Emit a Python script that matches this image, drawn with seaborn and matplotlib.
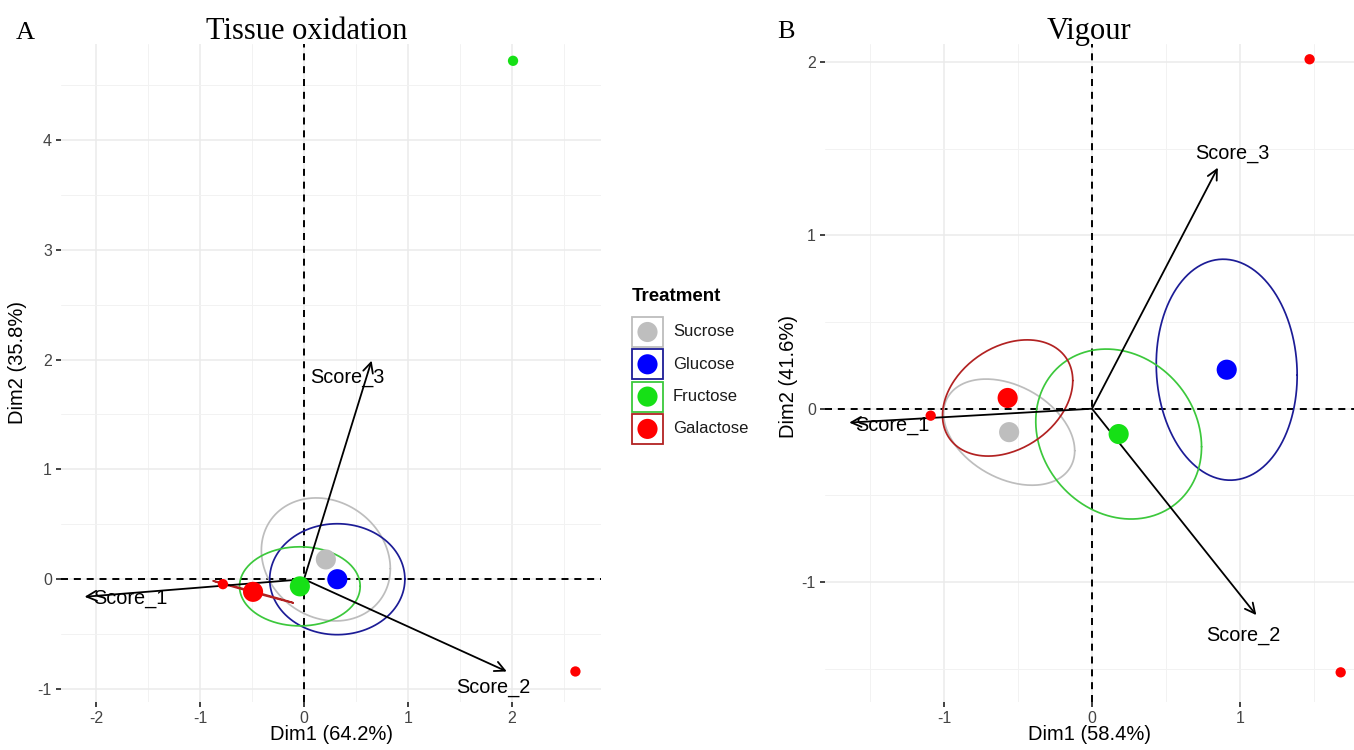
import numpy as np
import matplotlib
matplotlib.use("Agg")
import matplotlib.pyplot as plt
import seaborn as sns
from matplotlib.patches import Rectangle

# ---------------------------------------------------------------- data
treatments = ["Sucrose", "Glucose", "Fructose", "Galactose"]
point_colors = ["#BEBEBE", "#0000FF", "#16E016", "#FF0000"]
ellipse_colors = ["#BDBDBD", "#1C1C96", "#3CC83C", "#B22222"]

var_names = ["Score_1", "Score_2", "Score_3"]

# Panel A: tissue oxidation
a_mean_x = [0.21, 0.32, -0.04, -0.49]
a_mean_y = [0.18, 0.00, -0.065, -0.115]
a_ell_hx = [0.62, 0.65, 0.58, 0.385]
a_ell_hy = [0.56, 0.505, 0.36, 0.10]
a_ell_r = [-0.15, 0.0, 0.0, -0.999]
a_ind_x = [2.01, 2.61, -0.78]
a_ind_y = [4.72, -0.84, -0.045]
a_ind_group = ["Fructose", "Galactose", "Galactose"]
a_var_x = [-2.11, 1.95, 0.65]
a_var_y = [-0.16, -0.84, 1.99]
a_lab_x = [-1.67, 1.82, 0.42]
a_lab_y = [-0.18, -0.99, 1.84]

# Panel B: vigour
b_mean_x = [-0.56, 0.91, 0.18, -0.57]
b_mean_y = [-0.135, 0.225, -0.146, 0.062]
b_ell_hx = [0.443, 0.476, 0.56, 0.44]
b_ell_hy = [0.306, 0.637, 0.49, 0.335]
b_ell_r = [-0.35, -0.05, -0.15, 0.30]
b_ind_x = [1.47, 1.68, -1.09]
b_ind_y = [2.015, -1.52, -0.04]
b_ind_group = ["Galactose", "Galactose", "Galactose"]
b_var_x = [-1.64, 1.11, 0.85]
b_var_y = [-0.08, -1.19, 1.39]
b_lab_x = [-1.35, 1.02, 0.95]
b_lab_y = [-0.095, -1.305, 1.47]

# ---------------------------------------------------------------- style
sns.set_theme(style="whitegrid")
plt.rcParams["font.family"] = ["Liberation Sans", "DejaVu Sans"]
plt.rcParams["text.color"] = "black"

W, H = 1354, 750
fig = plt.figure(figsize=(W / 100, H / 100), dpi=100)
fig.patch.set_facecolor("white")


def fig_rect(left, top, right, bottom):
    return [left / W, 1 - bottom / H, (right - left) / W, (bottom - top) / H]


def fxy(x, y):
    return x / W, 1 - y / H


pal_pts = dict(zip(treatments, point_colors))


def ellipse_path(cx, cy, hx, hy, r, n=240):
    t = np.linspace(0, 2 * np.pi, n)
    u, v = np.cos(t), np.sin(t)
    x = cx + hx * u
    y = cy + hy * (r * u + np.sqrt(max(1 - r * r, 0.0)) * v)
    return x, y


def draw_panel(ax, xlim, ylim, xmaj, xmin, ymaj, ymin,
               mx, my, ehx, ehy, er, ix, iy, ig, vx, vy, lx, ly):
    ax.set_facecolor("white")
    ax.set_xlim(*xlim)
    ax.set_ylim(*ylim)
    ax.set_xticks(xmaj)
    ax.set_xticks(xmin, minor=True)
    ax.set_yticks(ymaj)
    ax.set_yticks(ymin, minor=True)
    ax.set_xticklabels([f"{v:g}" for v in xmaj])
    ax.set_yticklabels([f"{v:g}" for v in ymaj])
    ax.grid(which="major", color="#EBEBEB", lw=1.1)
    ax.grid(which="minor", color="#F2F2F2", lw=0.7)
    ax.set_axisbelow(True)
    for s in ax.spines.values():
        s.set_visible(False)
    ax.tick_params(which="major", length=3.6, width=1.3, color="#333333",
                   labelcolor="#444444", labelsize=11.5, pad=3,
                   direction="out", bottom=True, left=True)
    ax.tick_params(which="minor", length=0)

    ax.axhline(0, color="black", lw=1.4, ls=(0, (3.6, 3.0)), zorder=1)
    ax.axvline(0, color="black", lw=1.4, ls=(0, (3.6, 3.0)), zorder=1)

    for i in range(len(treatments)):
        ex, ey = ellipse_path(mx[i], my[i], ehx[i], ehy[i], er[i])
        ax.plot(ex, ey, color=ellipse_colors[i], lw=1.25, zorder=2)

    for i in range(len(var_names)):
        ax.annotate("", xy=(vx[i], vy[i]), xytext=(0, 0),
                    arrowprops=dict(arrowstyle="->", color="black", lw=1.3,
                                    mutation_scale=18, shrinkA=0, shrinkB=0),
                    zorder=3)

    sns.scatterplot(x=ix, y=iy, hue=ig, palette=pal_pts, s=55,
                    edgecolor="none", legend=False, ax=ax, zorder=4)
    sns.scatterplot(x=mx, y=my, hue=treatments, palette=pal_pts, s=210,
                    edgecolor="none", legend=False, ax=ax, zorder=5)

    for i, name in enumerate(var_names):
        ax.text(lx[i], ly[i], name, fontsize=14.3, color="black",
                ha="center", va="center", zorder=6)
    ax.set_xlabel("")
    ax.set_ylabel("")


# Panel A
axA = fig.add_axes(fig_rect(61, 44, 601, 702))
draw_panel(axA, (-2.337, 2.856), (-1.118, 4.873),
           [-2, -1, 0, 1, 2], [-1.5, -0.5, 0.5, 1.5, 2.5],
           [-1, 0, 1, 2, 3, 4], [-0.5, 0.5, 1.5, 2.5, 3.5, 4.5],
           a_mean_x, a_mean_y, a_ell_hx, a_ell_hy, a_ell_r,
           a_ind_x, a_ind_y, a_ind_group, a_var_x, a_var_y, a_lab_x, a_lab_y)

# Panel B
axB = fig.add_axes(fig_rect(825, 44, 1354, 702))
draw_panel(axB, (-1.804, 1.770), (-1.691, 2.103),
           [-1, 0, 1], [-1.5, -0.5, 0.5, 1.5],
           [-1, 0, 1, 2], [-1.5, -0.5, 0.5, 1.5],
           b_mean_x, b_mean_y, b_ell_hx, b_ell_hy, b_ell_r,
           b_ind_x, b_ind_y, b_ind_group, b_var_x, b_var_y, b_lab_x, b_lab_y)

# Titles and panel tags
serif = ["Liberation Serif", "DejaVu Serif"]
fig.text(*fxy(16, 39), "A", family=serif, fontsize=19, ha="left", va="baseline")
fig.text(*fxy(307, 39), "Tissue oxidation", family=serif, fontsize=22,
         ha="center", va="baseline")
fig.text(*fxy(777, 38), "B", family=serif, fontsize=19, ha="left", va="baseline")
fig.text(*fxy(1089, 39), "Vigour", family=serif, fontsize=22,
         ha="center", va="baseline")

# Axis titles
fig.text(*fxy(331, 735), "Dim1 (64.2%)", fontsize=14.5, ha="center", va="center")
fig.text(*fxy(1090, 735), "Dim1 (58.4%)", fontsize=14.5, ha="center", va="center")
fig.text(*fxy(18, 362), "Dim2 (35.8%)", fontsize=14.5, ha="center",
         va="center", rotation=90)
fig.text(*fxy(788, 376), "Dim2 (41.6%)", fontsize=14.5, ha="center",
         va="center", rotation=90)

# Legend for the treatments
legA = fig.add_axes(fig_rect(620, 280, 770, 450))
legA.set_xlim(620, 770)
legA.set_ylim(450, 280)
legA.axis("off")
legA.text(632, 297, "Treatment", fontsize=13.5, fontweight="bold",
          ha="left", va="center")
for i, name in enumerate(treatments):
    yc = 332 + 32.3 * i
    legA.add_patch(Rectangle((632, yc - 15), 31, 30, facecolor="white",
                             edgecolor=ellipse_colors[i], lw=1.3))
    legA.scatter([647.5], [yc], s=210, color=point_colors[i], edgecolor="none")
    legA.text(673, yc, name, fontsize=12, ha="left", va="center",
              color="#1A1A1A")

fig.savefig("out.png", dpi=100)
